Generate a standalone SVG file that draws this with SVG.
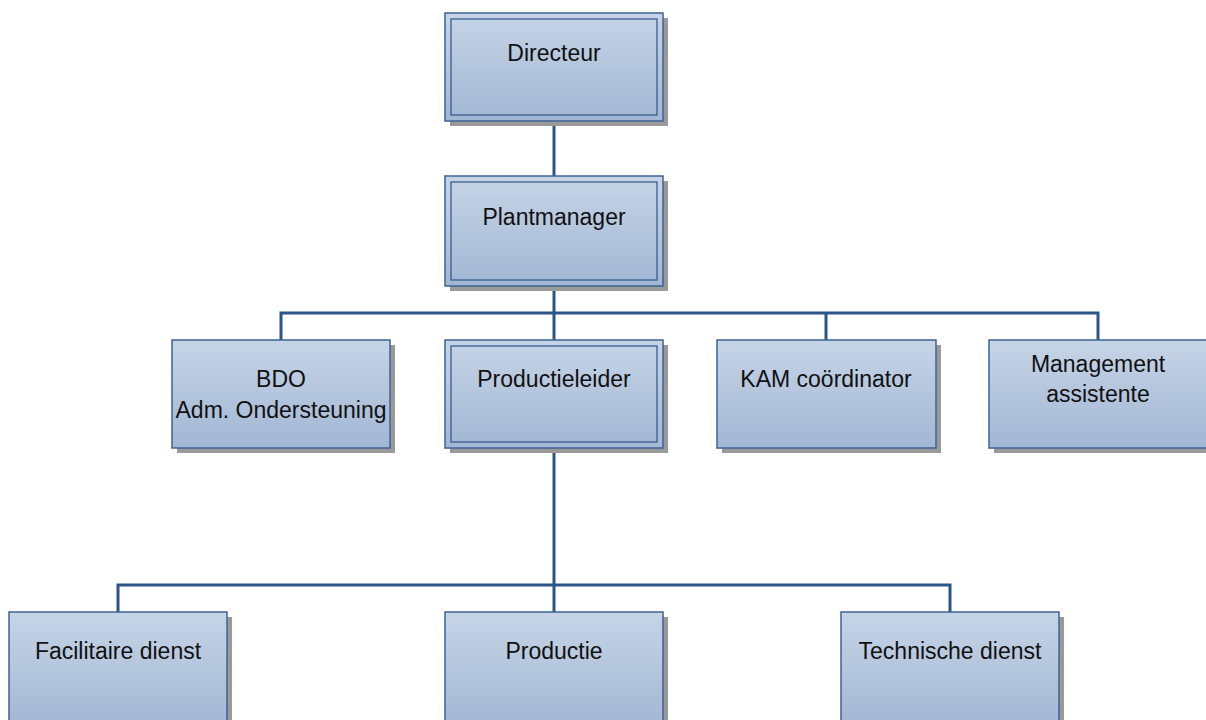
<svg xmlns="http://www.w3.org/2000/svg" width="1206" height="720" viewBox="0 0 1206 720">
<defs>
<linearGradient id="g" x1="0" y1="0" x2="0" y2="1">
<stop offset="0" stop-color="#c6d4e6"/>
<stop offset="1" stop-color="#a2b7d4"/>
</linearGradient>
</defs>
<style>
.sh{fill:#9a9a9a}
.box{fill:url(#g);stroke:#3e6394;stroke-width:1.5}
.in{fill:none;stroke:#2f5488;stroke-width:1.2}
.t{font-family:"Liberation Sans",Arial,sans-serif;font-size:23px;fill:#111;text-anchor:middle}
.c{fill:none;stroke:#2b5489;stroke-width:3;stroke-linejoin:miter}
</style>
<rect width="1206" height="720" fill="#ffffff"/>
<g id="connectors">
<path class="c" d="M554 121V176"/>
<path class="c" d="M554 286V340"/>
<path class="c" d="M281 340V313H1098V340"/>
<path class="c" d="M826 313V340"/>
<path class="c" d="M554 448V612"/>
<path class="c" d="M118 612V585H950V612"/>
</g>
<g id="directeur">
<rect class="sh" x="450" y="18" width="218" height="108"/>
<rect class="box" x="445" y="13" width="218" height="108"/>
<rect class="in" x="451" y="19" width="206" height="96"/>
<text class="t" x="554" y="61">Directeur</text>
</g>
<g id="plantmanager">
<rect class="sh" x="450" y="181" width="218" height="110"/>
<rect class="box" x="445" y="176" width="218" height="110"/>
<rect class="in" x="451" y="182" width="206" height="98"/>
<text class="t" x="554" y="225">Plantmanager</text>
</g>
<g id="bdo">
<rect class="sh" x="177" y="345" width="218" height="108"/>
<rect class="box" x="172" y="340" width="218" height="108"/>
<text class="t" x="281" y="387">BDO</text>
<text class="t" x="281" y="418">Adm. Ondersteuning</text>
</g>
<g id="productieleider">
<rect class="sh" x="450" y="345" width="218" height="108"/>
<rect class="box" x="445" y="340" width="218" height="108"/>
<rect class="in" x="451" y="346" width="206" height="96"/>
<text class="t" x="554" y="387">Productieleider</text>
</g>
<g id="kam">
<rect class="sh" x="722" y="345" width="219" height="108"/>
<rect class="box" x="717" y="340" width="219" height="108"/>
<text class="t" x="826" y="387">KAM coördinator</text>
</g>
<g id="management">
<rect class="sh" x="994" y="345" width="218" height="108"/>
<rect class="box" x="989" y="340" width="218" height="108"/>
<text class="t" x="1098" y="372">Management</text>
<text class="t" x="1098" y="402">assistente</text>
</g>
<g id="facilitaire">
<rect class="sh" x="14" y="617" width="218" height="110"/>
<rect class="box" x="9" y="612" width="218" height="115"/>
<text class="t" x="118" y="659">Facilitaire dienst</text>
</g>
<g id="productie">
<rect class="sh" x="450" y="617" width="218" height="110"/>
<rect class="box" x="445" y="612" width="218" height="115"/>
<text class="t" x="554" y="659">Productie</text>
</g>
<g id="technische">
<rect class="sh" x="846" y="617" width="218" height="110"/>
<rect class="box" x="841" y="612" width="218" height="115"/>
<text class="t" x="950" y="659">Technische dienst</text>
</g>
</svg>
